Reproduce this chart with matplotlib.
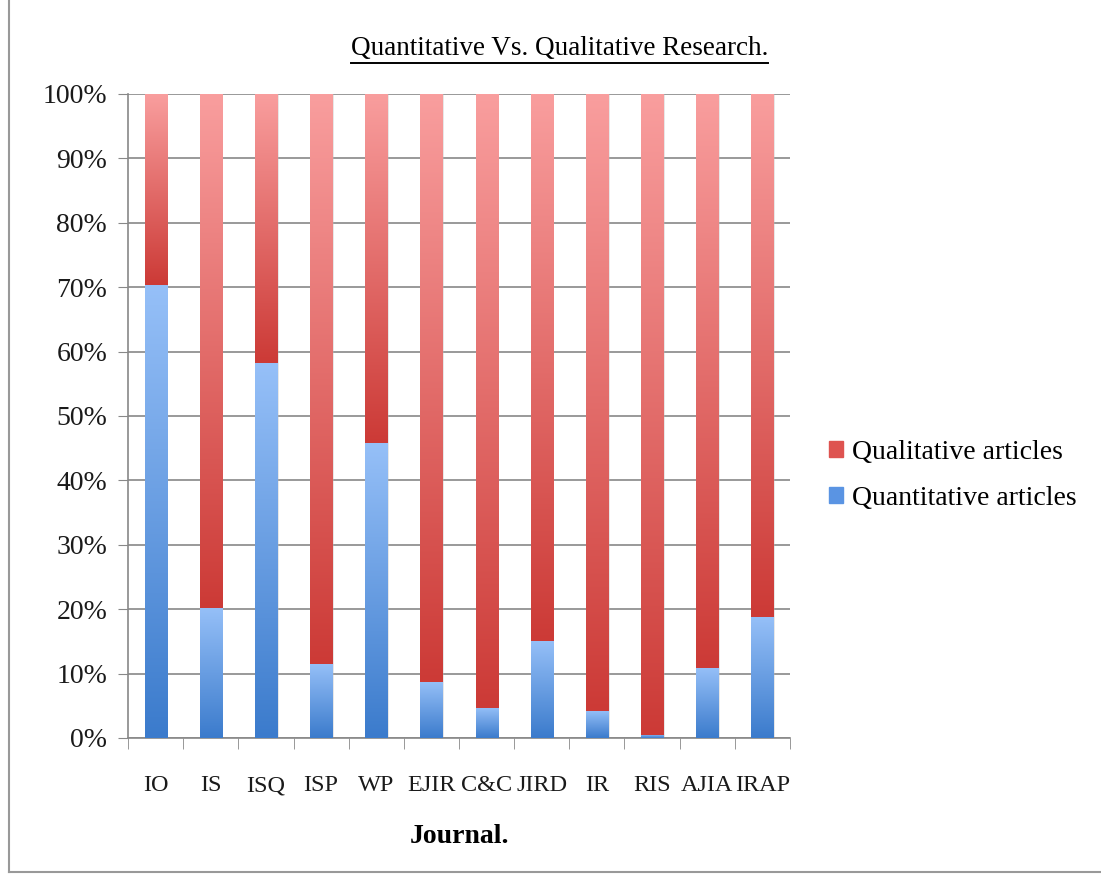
import numpy as np
import matplotlib.pyplot as plt
from matplotlib.lines import Line2D
from matplotlib.colors import LinearSegmentedColormap

journals = ["IO", "IS", "ISQ", "ISP", "WP", "EJIR", "C&C", "JIRD", "IR", "RIS", "AJIA", "IRAP"]
quantitative = [70.4, 20.2, 58.2, 11.5, 45.8, 8.7, 4.7, 15.1, 4.2, 0.5, 10.9, 18.8]
qualitative = [100 - q for q in quantitative]

plt.rcParams['font.family'] = ['Liberation Serif', 'DejaVu Serif']

fig = plt.figure(figsize=(11.01, 8.75), dpi=100)
ax = fig.add_axes([0.1163, 0.1566, 0.6012, 0.736])

x = np.arange(len(journals))
w = 0.4
b_quant = ax.bar(x, quantitative, w, color="#4f8ee0", label="Quantitative articles", zorder=3)
b_qual = ax.bar(x, qualitative, w, bottom=quantitative, color="#e05a57",
                label="Qualitative articles", zorder=3)

# gradient fills (dark at bottom, light at top of each segment)
blue_cm = LinearSegmentedColormap.from_list("b", ["#3b7bcc", "#96c0f8"])
red_cm = LinearSegmentedColormap.from_list("r", ["#cc3a36", "#f99e9e"])
grad = np.linspace(0, 1, 256).reshape(-1, 1)
for bars, cm in [(b_quant, blue_cm), (b_qual, red_cm)]:
    for p in bars:
        x0, y0 = p.get_x(), p.get_y()
        pw, ph = p.get_width(), p.get_height()
        if ph <= 0:
            continue
        # soft shadow on the right
        ax.add_patch(plt.Rectangle((x0 + pw, y0), 0.03, ph, color="#bbbbbb",
                                   alpha=0.35, lw=0, zorder=2))
        im = ax.imshow(grad, cmap=cm, origin="lower", aspect="auto",
                       extent=(x0, x0 + pw, y0, y0 + ph), zorder=4)
        im.set_clip_path(p)

ax.set_xlim(-0.5, len(journals) - 0.5)
ax.set_ylim(0, 100)
ax.set_yticks(range(0, 101, 10))
ax.set_yticklabels([f"{v}%" for v in range(0, 101, 10)], fontsize=20, color="#1a1a1a")
ax.set_xticks(x)
ax.set_xticklabels(journals, fontsize=17.5, color="#1a1a1a")
ax.tick_params(axis="x", length=0, pad=27)
ax.set_xticks(np.arange(-0.5, len(journals)), minor=True)
ax.tick_params(axis="x", which="minor", length=8, color="#888888", direction="out")
ax.tick_params(axis="y", length=7, color="#888888", pad=8)
ax.grid(axis="y", color="#888888", lw=1.2, zorder=0)
for s in ["top", "right"]:
    ax.spines[s].set_visible(False)
for s in ["left", "bottom"]:
    ax.spines[s].set_color("#888888")
    ax.spines[s].set_linewidth(1.2)

ax.set_xlabel("Journal.", fontsize=20, fontweight="bold", labelpad=20)

handles = [b_qual, b_quant]
leg = fig.legend(handles, ["Qualitative articles", "Quantitative articles"],
                 loc="center left", bbox_to_anchor=(0.73, 0.457), frameon=False,
                 fontsize=20, handlelength=0.5, handleheight=0.5, handletextpad=0.35,
                 labelspacing=0.75)
leg.legend_handles[0].set_color("#de5350")
leg.legend_handles[1].set_color("#5a94e3")

title = fig.text(0.508, 0.937, "Quantitative Vs. Qualitative Research.", ha="center",
                 va="baseline", fontsize=19.5)
fig.canvas.draw()
bb = title.get_window_extent().transformed(fig.transFigure.inverted())
fig.add_artist(Line2D([bb.x0, bb.x1], [bb.y0 - 0.002, bb.y0 - 0.002],
                      transform=fig.transFigure, color="black", lw=1.4))

# outer chart frame (left and bottom edges)
fig.add_artist(Line2D([0.008, 0.008], [0.004, 1.0], transform=fig.transFigure,
                      color="#999999", lw=1.5))
fig.add_artist(Line2D([0.008, 1.0], [0.004, 0.004], transform=fig.transFigure,
                      color="#999999", lw=1.5))

fig.savefig("out.png", dpi=100)
